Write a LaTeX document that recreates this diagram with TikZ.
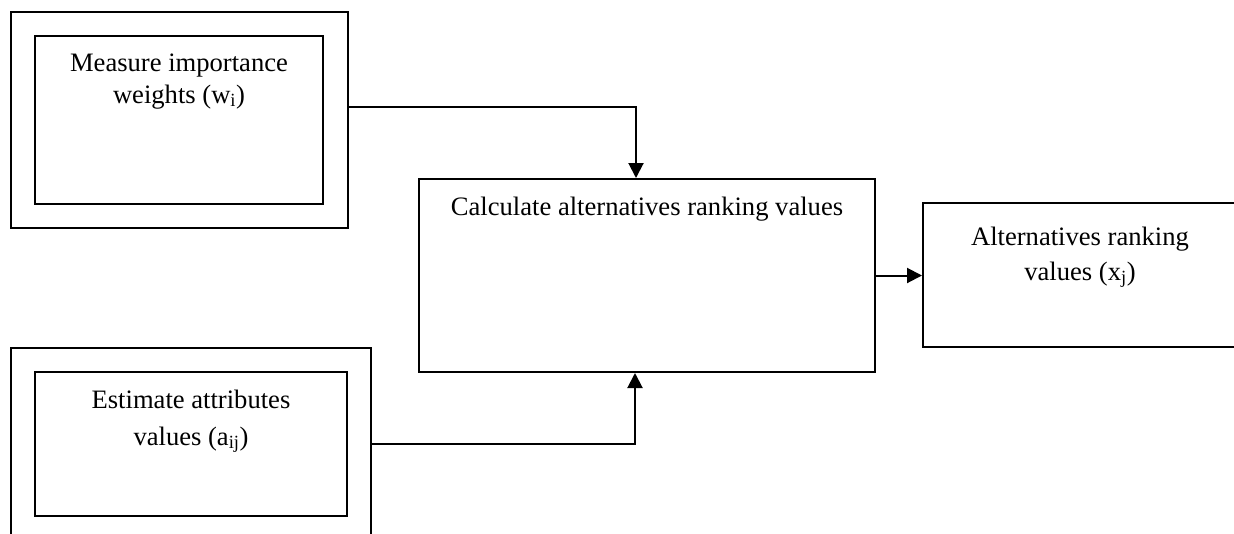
\documentclass[tikz,border=0pt]{standalone}
\usepackage{fontspec}
\setmainfont{Liberation Serif}
\usetikzlibrary{arrows.meta}
\begin{document}
\begin{tikzpicture}[x=1pt,y=-1pt,
  boxx/.style={draw,line width=2pt,inner sep=0pt,rectangle},
  txt/.style={anchor=base,inner sep=0pt,font=\fontsize{26.6}{32}\selectfont},
  conn/.style={line width=2pt,-{Triangle[length=15pt,width=15pt]}}]
\useasboundingbox (0,0) rectangle (1234,533);
\clip (0,0) rectangle (1234,533);
% boxes
\node[boxx,minimum width=337pt,minimum height=216pt] (wout) at (179.5,120) {};
\node[boxx,minimum width=288pt,minimum height=168pt] (win) at (179,120) {};
\node[boxx,minimum width=360pt,minimum height=192pt] (aout) at (191,444) {};
\node[boxx,minimum width=312pt,minimum height=144pt] (ain) at (191,444) {};
\node[boxx,minimum width=456pt,minimum height=193pt] (calc) at (647,275.5) {};
\node[boxx,minimum width=314pt,minimum height=144pt] (res) at (1080,275) {};
% texts
\node[txt] (wtxt) at (179,71) {\begin{tabular}[t]{@{}c@{}}Measure importance\\weights (w\textsubscript{i})\end{tabular}};
\node[txt] (ctxt) at (647,215) {Calculate alternatives ranking values};
\node[txt] (atxt) at (191,408) {\begin{tabular}[t]{@{}c@{}}Estimate attributes\\[5pt]values (a\textsubscript{ij})\end{tabular}};
\node[txt] (rtxt) at (1080,245) {\begin{tabular}[t]{@{}c@{}}Alternatives ranking\\[3pt]values (x\textsubscript{j})\end{tabular}};
% connectors
\draw[conn] ([yshift=13pt]wout.east) -| ([xshift=-11pt]calc.north);
\draw[conn] (aout.east) -| ([xshift=-12pt]calc.south);
\draw[conn] (calc.east) -- (calc.east -| res.west);
\end{tikzpicture}
\end{document}
